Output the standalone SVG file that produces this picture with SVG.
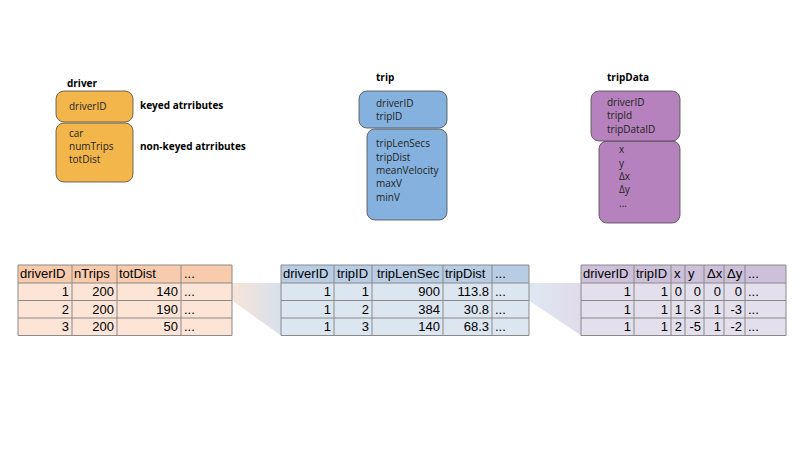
<svg xmlns="http://www.w3.org/2000/svg" width="800" height="467" viewBox="0 0 800 467">
<defs>
<linearGradient id="g1" x1="0" y1="0" x2="1" y2="0">
<stop offset="0" stop-color="#f6e4d8"/>
<stop offset="1" stop-color="#d8e0ec"/>
</linearGradient>
<linearGradient id="g2" x1="0" y1="0" x2="1" y2="0">
<stop offset="0" stop-color="#dfe7f2"/>
<stop offset="1" stop-color="#e1dbec"/>
</linearGradient>
</defs>
<style>
.t{font-family:"Open Sans","Noto Sans",sans-serif;font-size:10px;fill:#231f20}
.b{font-family:"Open Sans","Noto Sans",sans-serif;font-size:10px;font-weight:bold;fill:#000}
.box{stroke:#4a4a4a;stroke-width:0.8}
.o{fill:#f3b64b}.bl{fill:#85b1df}.p{fill:#b682bd}
.c{font-family:"Liberation Sans",Arial,sans-serif;font-size:13px;fill:#000}
.r{text-anchor:end}
.gl{stroke:#8a8a8a;stroke-width:1;fill:none}
.h1{fill:#f8cbad}.d1{fill:#fce4d6}
.h2{fill:#b8cce4}.d2{fill:#dce6f1}
.h3{fill:#ccc0da}.d3{fill:#e4dfec}
</style>
<rect width="800" height="467" fill="#fff"/>
<g id="connectors">
<polygon points="232,283 281,283 281,335.5 232,300.5" fill="url(#g1)"/>
<polygon points="529,283 581,283 581,335.5 529,300.5" fill="url(#g2)"/>
</g>
<g id="driver">
<text class="b" x="67" y="87">driver</text>
<rect class="box o" x="56" y="91" width="77" height="31" rx="8"/>
<rect class="box o" x="56" y="123" width="77" height="59" rx="8"/>
<text class="t" x="69" y="110">driverID</text>
<text class="t" x="69" y="137">car</text>
<text class="t" x="69" y="150">numTrips</text>
<text class="t" x="69" y="163">totDist</text>
<text class="b" x="140" y="109">keyed atrributes</text>
<text class="b" x="140" y="150">non-keyed atrributes</text>
</g>
<g id="trip">
<text class="b" x="376" y="81">trip</text>
<rect class="box bl" x="367" y="129" width="80" height="91" rx="8"/>
<rect class="box bl" x="359" y="91" width="88" height="37" rx="8"/>
<text class="t" x="376" y="107">driverID</text>
<text class="t" x="376" y="120">tripID</text>
<text class="t" x="376" y="147">tripLenSecs</text>
<text class="t" x="376" y="161">tripDist</text>
<text class="t" x="376" y="174">meanVelocity</text>
<text class="t" x="376" y="187">maxV</text>
<text class="t" x="376" y="201">minV</text>
</g>
<g id="tripData">
<text class="b" x="607" y="81">tripData</text>
<rect class="box p" x="599" y="141" width="81" height="82" rx="8"/>
<rect class="box p" x="591" y="91" width="89" height="50" rx="8"/>
<text class="t" x="607" y="106">driverID</text>
<text class="t" x="607" y="119">tripId</text>
<text class="t" x="607" y="133">tripDataID</text>
<text class="t" x="619" y="153">x</text>
<text class="t" x="619" y="167">y</text>
<text class="t" x="619" y="180">Δx</text>
<text class="t" x="619" y="193">Δy</text>
<text class="t" x="619" y="207">...</text>
</g>
<g id="driverTable">
<rect class="h1" x="18" y="265" width="214" height="18"/>
<rect class="d1" x="18" y="283" width="214" height="52.5"/>
<path class="gl" d="M18,265H232V335.5H18Z M18,283H232 M18,300.5H232 M18,318H232 M72,265V335.5 M117,265V335.5 M181,265V335.5"/>
<text class="c" x="20" y="278">driverID</text>
<text class="c" x="74" y="278">nTrips</text>
<text class="c" x="119" y="278">totDist</text>
<text class="c" x="184" y="278">...</text>
<text class="c r" x="69" y="296">1</text><text class="c r" x="114" y="296">200</text><text class="c r" x="178" y="296">140</text><text class="c" x="184" y="296">...</text>
<text class="c r" x="69" y="313.5">2</text><text class="c r" x="114" y="313.5">200</text><text class="c r" x="178" y="313.5">190</text><text class="c" x="184" y="313.5">...</text>
<text class="c r" x="69" y="331">3</text><text class="c r" x="114" y="331">200</text><text class="c r" x="178" y="331">50</text><text class="c" x="184" y="331">...</text>
</g>
<g id="tripTable">
<rect class="h2" x="281" y="265" width="248" height="18"/>
<rect class="d2" x="281" y="283" width="248" height="52.5"/>
<path class="gl" d="M281,265H529V335.5H281Z M281,283H529 M281,300.5H529 M281,318H529 M334,265V335.5 M372,265V335.5 M443,265V335.5 M492,265V335.5"/>
<text class="c" x="283" y="278">driverID</text>
<text class="c" x="337" y="278">tripID</text>
<text class="c" x="377" y="278">tripLenSec</text>
<text class="c" x="445" y="278">tripDist</text>
<text class="c" x="495" y="278">...</text>
<text class="c r" x="331" y="296">1</text><text class="c r" x="369" y="296">1</text><text class="c r" x="440" y="296">900</text><text class="c r" x="489" y="296">113.8</text><text class="c" x="495" y="296">...</text>
<text class="c r" x="331" y="313.5">1</text><text class="c r" x="369" y="313.5">2</text><text class="c r" x="440" y="313.5">384</text><text class="c r" x="489" y="313.5">30.8</text><text class="c" x="495" y="313.5">...</text>
<text class="c r" x="331" y="331">1</text><text class="c r" x="369" y="331">3</text><text class="c r" x="440" y="331">140</text><text class="c r" x="489" y="331">68.3</text><text class="c" x="495" y="331">...</text>
</g>
<g id="tripDataTable">
<rect class="h3" x="581" y="265" width="205" height="18"/>
<rect class="d3" x="581" y="283" width="205" height="52.5"/>
<path class="gl" d="M581,265H786V335.5H581Z M581,283H786 M581,300.5H786 M581,318H786 M634,265V335.5 M671,265V335.5 M685,265V335.5 M704,265V335.5 M724,265V335.5 M745,265V335.5"/>
<text class="c" x="583" y="278">driverID</text>
<text class="c" x="636" y="278">tripID</text>
<text class="c" x="674" y="278">x</text>
<text class="c" x="688" y="278">y</text>
<text class="c" x="707" y="278">Δx</text>
<text class="c" x="727" y="278">Δy</text>
<text class="c" x="748" y="278">...</text>
<text class="c r" x="631" y="296">1</text><text class="c r" x="668" y="296">1</text><text class="c r" x="682" y="296">0</text><text class="c r" x="701" y="296">0</text><text class="c r" x="721" y="296">0</text><text class="c r" x="742" y="296">0</text><text class="c" x="748" y="296">...</text>
<text class="c r" x="631" y="313.5">1</text><text class="c r" x="668" y="313.5">1</text><text class="c r" x="682" y="313.5">1</text><text class="c r" x="701" y="313.5">-3</text><text class="c r" x="721" y="313.5">1</text><text class="c r" x="742" y="313.5">-3</text><text class="c" x="748" y="313.5">...</text>
<text class="c r" x="631" y="331">1</text><text class="c r" x="668" y="331">1</text><text class="c r" x="682" y="331">2</text><text class="c r" x="701" y="331">-5</text><text class="c r" x="721" y="331">1</text><text class="c r" x="742" y="331">-2</text><text class="c" x="748" y="331">...</text>
</g>
</svg>
